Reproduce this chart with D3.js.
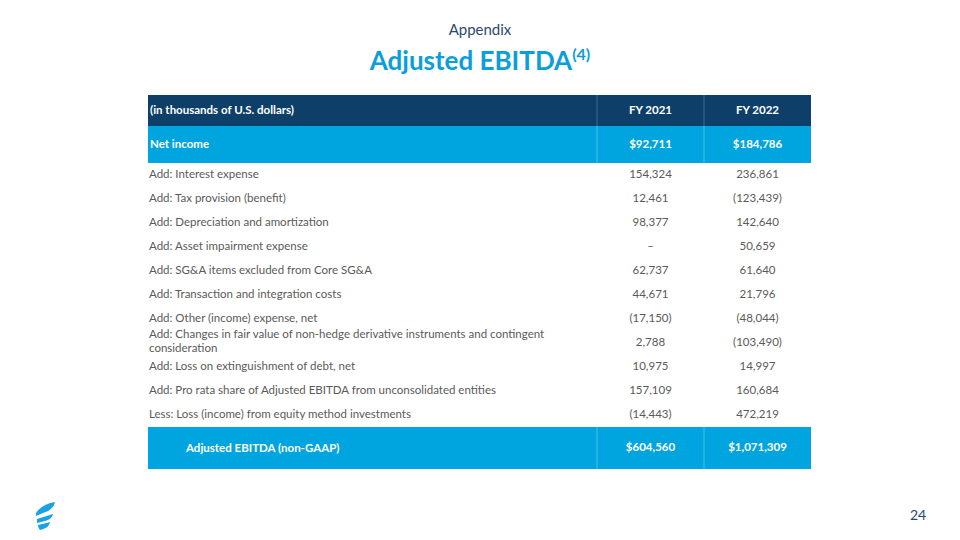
<!DOCTYPE html>
<html><head><meta charset="utf-8">
<script src="https://cdn.jsdelivr.net/npm/d3@7"></script>
<style>html,body{margin:0;padding:0;background:#fff;}svg{display:block;font-family:Lato,"Open Sans",sans-serif;}</style>
</head><body>
<svg id="c" width="960" height="540"></svg>
<script>
const columns = ["FY 2021", "FY 2022"];
const headerLabel = "(in thousands of U.S. dollars)";
const netIncomeLabel = "Net income";
const netIncome = [92711, 184786];
const rowLabels = [
  ["Add: Interest expense"],
  ["Add: Tax provision (benefit)"],
  ["Add: Depreciation and amortization"],
  ["Add: Asset impairment expense"],
  ["Add: SG&A items excluded from Core SG&A"],
  ["Add: Transaction and integration costs"],
  ["Add: Other (income) expense, net"],
  ["Add: Changes in fair value of non-hedge derivative instruments and contingent", "consideration"],
  ["Add: Loss on extinguishment of debt, net"],
  ["Add: Pro rata share of Adjusted EBITDA from unconsolidated entities"],
  ["Less: Loss (income) from equity method investments"]
];
const fy2021 = [154324, 12461, 98377, null, 62737, 44671, -17150, 2788, 10975, 157109, -14443];
const fy2022 = [236861, -123439, 142640, 50659, 61640, 21796, -48044, -103490, 14997, 160684, 472219];
const totalLabel = "Adjusted EBITDA (non-GAAP)";
const totals = [604560, 1071309];

const svg = d3.select("#c");
const navy = "#0e3f69", blue = "#00a4de", grey = "#5a5a5a";
const fs = 11.5;
const fmt = d3.format(",");
const fmtVal = v => v == null ? "\u2013" : (v < 0 ? "(" + fmt(-v) + ")" : fmt(v));
const fmtMoney = v => "$" + fmt(v);

const left = 148, right = 811;
const x = d3.scaleBand().domain(columns).range([597, right]);
const y = d3.scaleLinear().domain([0, 10]).range([174, 414]);

// Titles
svg.append("text").attr("x", 480).attr("y", 35).attr("text-anchor", "middle")
  .attr("font-size", 15).attr("fill", "#2a4a70").text("Appendix");
const t = svg.append("text").attr("x", 480).attr("y", 70).attr("text-anchor", "middle")
  .attr("font-size", 26).attr("font-weight", 700).attr("fill", "#0a9edb");
t.append("tspan").text("Adjusted EBITDA");
t.append("tspan").attr("font-size", 16).attr("dy", -10).text("(4)");

// Header row
svg.append("rect").attr("x", left).attr("y", 95).attr("width", right - left).attr("height", 31).attr("fill", navy);
svg.append("text").attr("x", left + 2).attr("y", 114).attr("font-size", fs).attr("font-weight", 700)
  .attr("fill", "#fff").text(headerLabel);
columns.forEach(c => svg.append("text").attr("x", x(c) + x.bandwidth() / 2).attr("y", 114)
  .attr("text-anchor", "middle").attr("font-size", fs).attr("font-weight", 700).attr("fill", "#fff").text(c));

// Net income row
svg.append("rect").attr("x", left).attr("y", 126).attr("width", right - left).attr("height", 37).attr("fill", blue);
svg.append("text").attr("x", left + 2).attr("y", 148).attr("font-size", fs).attr("font-weight", 700)
  .attr("fill", "#fff").text(netIncomeLabel);
columns.forEach((c, i) => svg.append("text").attr("x", x(c) + x.bandwidth() / 2).attr("y", 148)
  .attr("text-anchor", "middle").attr("font-size", fs).attr("font-weight", 700).attr("fill", "#fff").text(fmtMoney(netIncome[i])));

// Total row
svg.append("rect").attr("x", left).attr("y", 427).attr("width", right - left).attr("height", 42).attr("fill", blue);
svg.append("text").attr("x", 186).attr("y", 452).attr("font-size", fs).attr("font-weight", 700)
  .attr("fill", "#fff").text(totalLabel);
columns.forEach((c, i) => svg.append("text").attr("x", x(c) + x.bandwidth() / 2).attr("y", 451)
  .attr("text-anchor", "middle").attr("font-size", fs).attr("font-weight", 700).attr("fill", "#fff").text(fmtMoney(totals[i])));

// Column dividers in header / colored rows
columns.forEach(c => {
  [[95, 126, "#3d6a90"], [126, 163, "#4dbde9"], [427, 469, "#4dbde9"]].forEach(([a, b, col]) =>
    svg.append("line").attr("x1", x(c)).attr("x2", x(c)).attr("y1", a).attr("y2", b).attr("stroke", col).attr("stroke-width", 1));
});

// Body rows
const body = svg.append("g");
rowLabels.forEach((lines, i) => {
  const cy = y(i);
  if (lines.length === 1) {
    body.append("text").attr("font-size", fs).attr("fill", grey)
      .attr("x", left + 1).attr("y", cy + 4).text(lines[0]);
  } else {
    body.append("text").attr("font-size", fs).attr("fill", grey)
      .attr("x", left + 1).attr("y", cy - 4).text(lines[0]);
    body.append("text").attr("font-size", fs).attr("fill", grey)
      .attr("x", left + 1).attr("y", cy + 10).text(lines[1]);
  }
  [fy2021[i], fy2022[i]].forEach((v, j) => {
    body.append("text").attr("x", x(columns[j]) + x.bandwidth() / 2).attr("y", cy + 4)
      .attr("text-anchor", "middle").attr("font-size", fs).attr("fill", grey).text(fmtVal(v));
  });
});

// Page number
svg.append("text").attr("x", 918).attr("y", 520).attr("text-anchor", "middle").attr("font-size", 14)
  .attr("fill", "#2a4a70").text("24");

// Logo
const logo = svg.append("g").attr("fill", "#1ba2e2");
logo.append("path").attr("d", "M36,513 C40,507 47,503 55,502 C54,507 50,511 43,513 L36,516 Z");
logo.append("path").attr("d", "M37,519 C42,517 48,516 53,514 C52,519 47,521 41,522 L37,523 Z");
logo.append("path").attr("d", "M38,525 C42,524 47,523 50,522 C49,527 45,529 40,530 C39,529 38,527 38,525 Z");
</script>
</body></html>
